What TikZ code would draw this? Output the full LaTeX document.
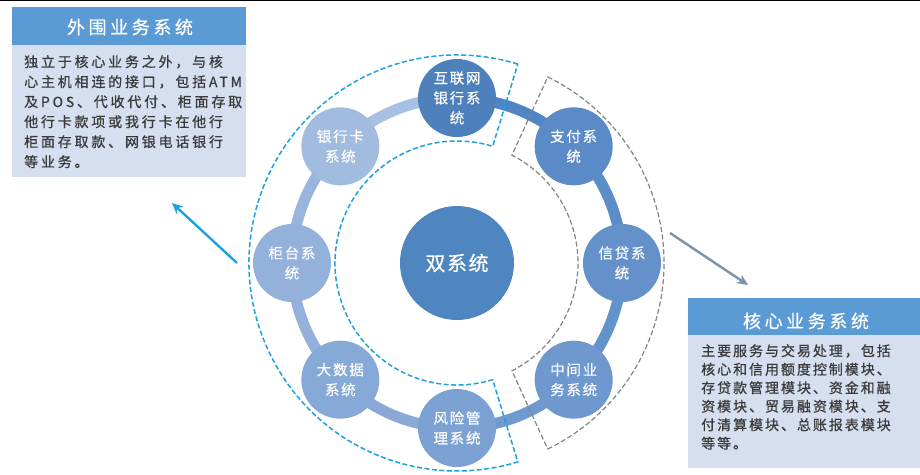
\documentclass[tikz,border=0pt]{standalone}
\usepackage{fontspec}
\setmainfont{Noto Sans CJK SC}
\newfontfamily\cjkbody[LetterSpace=20,FakeBold=0.6]{Noto Sans CJK SC}
\newfontfamily\cjkright[LetterSpace=14,FakeBold=0.6]{Noto Sans CJK SC}
\newfontfamily\cjknode[LetterSpace=12,FakeBold=0.4]{Noto Sans CJK SC}
\newfontfamily\cjktitle[LetterSpace=20,FakeBold=0.6]{Noto Sans CJK SC}
\newfontfamily\cjkcenter[LetterSpace=8,FakeBold=0.6]{Noto Sans CJK SC}
\usetikzlibrary{arrows.meta,calc}
\definecolor{titlebar}{HTML}{5B9BD5}
\definecolor{boxbody}{HTML}{D6DFEF}
\definecolor{bodytext}{HTML}{3A3A3A}
\definecolor{dashblue}{HTML}{1EA2DE}
\definecolor{dashgray}{HTML}{7F858C}
\definecolor{arrgray}{HTML}{7D93AF}
\definecolor{cc}{HTML}{4F86C0}
\definecolor{c1}{HTML}{4E80BC}
\definecolor{c2}{HTML}{5A8BC6}
\definecolor{c3}{HTML}{6491CA}
\definecolor{c4}{HTML}{6E98CE}
\definecolor{c5}{HTML}{7CA1D3}
\definecolor{c6}{HTML}{87A9D7}
\definecolor{c7}{HTML}{93B1DA}
\definecolor{c8}{HTML}{A2BCE0}
\definecolor{s1}{HTML}{4F85C3}
\definecolor{s2}{HTML}{5B8DC8}
\definecolor{s3}{HTML}{6393CC}
\definecolor{s4}{HTML}{6F9ACF}
\definecolor{s5}{HTML}{8AA9D7}
\definecolor{s6}{HTML}{95B0DA}
\definecolor{s7}{HTML}{9AB5DD}
\definecolor{s8}{HTML}{A8C1E3}
\tikzset{
  ringnode/.style={circle, minimum size=78pt, inner sep=0pt, text=white,
    align=center, font=\cjknode\fontsize{14.5}{20}\selectfont},
  ringseg/.style={line width=11pt},
  bluesector/.style={draw=dashblue, dash pattern=on 5pt off 2.5pt, line width=1.5pt},
  graysector/.style={draw=dashgray, dash pattern=on 5pt off 2.5pt, line width=1.2pt},
  titlebox/.style={fill=titlebar, draw=none},
  bodybox/.style={fill=boxbody, draw=none},
  titletext/.style={text=white, font=\cjktitle\fontsize{18}{22}\selectfont, inner sep=0pt},
  bodytextL/.style={text=bodytext, align=left, inner sep=0pt, font=\cjkbody\fontsize{14}{20}\selectfont},
  bodytextR/.style={text=bodytext, align=left, inner sep=0pt, font=\cjkright\fontsize{14}{18.5}\selectfont},
  pointer/.style={line width=2.4pt, -{Stealth[length=11pt,width=10pt]}}
}
\begin{document}
\begin{tikzpicture}[x=1pt,y=1pt]
\useasboundingbox (0,0) rectangle (920,474);
\fill[white] (0,0) rectangle (920,474);
\draw[black, line width=1.2pt] (0,473.4) -- (920,473.4);
\coordinate (C) at (457,211);
% ring segments
\draw[ringseg, s1] ($(C)+(45:165)$) arc[start angle=45, end angle=90, radius=165];
\draw[ringseg, s2] ($(C)+(0:165)$) arc[start angle=0, end angle=45, radius=165];
\draw[ringseg, s3] ($(C)+(-45:165)$) arc[start angle=-45, end angle=0, radius=165];
\draw[ringseg, s4] ($(C)+(-90:165)$) arc[start angle=-90, end angle=-45, radius=165];
\draw[ringseg, s5] ($(C)+(-135:165)$) arc[start angle=-135, end angle=-90, radius=165];
\draw[ringseg, s6] ($(C)+(180:165)$) arc[start angle=180, end angle=225, radius=165];
\draw[ringseg, s7] ($(C)+(135:165)$) arc[start angle=135, end angle=180, radius=165];
\draw[ringseg, s8] ($(C)+(90:165)$) arc[start angle=90, end angle=135, radius=165];
% nodes
\node[circle, minimum size=114pt, inner sep=0pt, fill=cc, text=white, font=\cjkcenter\fontsize{20}{24}\selectfont] (center) at (C) {双系统};
\node[ringnode, fill=c1] (n1) at ($(C)+(90:165)$) {互联网\\银行系\\统};
\node[ringnode, fill=c2] (n2) at ($(C)+(45:165)$) {支付系\\统};
\node[ringnode, fill=c3] (n3) at ($(C)+(0:165)$) {信贷系\\统};
\node[ringnode, fill=c4] (n4) at ($(C)+(-45:165)$) {中间业\\务系统};
\node[ringnode, fill=c5] (n5) at ($(C)+(-90:165)$) {风险管\\理系统};
\node[ringnode, fill=c6] (n6) at ($(C)+(-135:165)$) {大数据\\系统};
\node[ringnode, fill=c7] (n7) at ($(C)+(180:165)$) {柜台系\\统};
\node[ringnode, fill=c8] (n8) at ($(C)+(135:165)$) {银行卡\\系统};
% dashed sectors
\draw[bluesector] ($(C)+(73:208)$) arc[start angle=73, end angle=287, radius=208]
  -- ($(C)+(287:122)$) arc[start angle=287, end angle=73, radius=122] -- cycle;
\draw[graysector] ($(C)+(-64:207)$) arc[start angle=-64, end angle=64, radius=207]
  -- ($(C)+(63:121)$) arc[start angle=63, end angle=-63, radius=121] -- cycle;
% left box
\fill[titlebox] (12,429) rectangle (246,467);
\fill[bodybox] (12,297) rectangle (246,429);
\node[titletext] (ltitle) at (130,447) {外围业务系统};
\node[bodytextL, anchor=north west] (lbody) at (24,419) {独立于核心业务之外，与核\\心主机相连的接口，包括ATM\\及POS、代收代付、柜面存取\\他行卡款项或我行卡在他行\\柜面存取款、网银电话银行\\等业务。};
% right box
\fill[titlebox] (688,139) rectangle (920,176);
\fill[bodybox] (688,6) rectangle (920,139);
\node[titletext] (rtitle) at (806,153) {核心业务系统};
\node[bodytextR, anchor=north west] (rbody) at (701,130) {主要服务与交易处理，包括\\核心和信用额度控制模块、\\存贷款管理模块、资金和融\\资模块、贸易融资模块、支\\付清算模块、总账报表模块\\等等。};
% arrows
\coordinate (a1s) at (237,211);
\coordinate (a1e) at (172,271);
\coordinate (a2s) at (670,241);
\coordinate (a2e) at (748,189);
\draw[pointer, dashblue] (a1s) -- (a1e);
\draw[pointer, arrgray] (a2s) -- (a2e);
\end{tikzpicture}
\end{document}
